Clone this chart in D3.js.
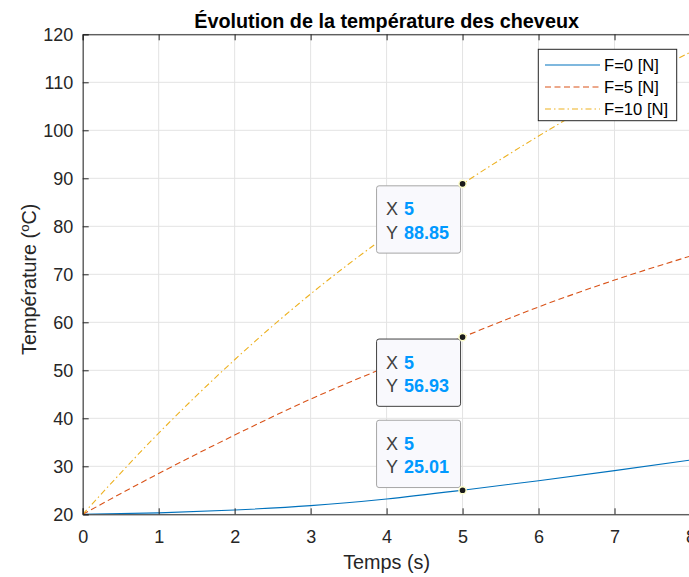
<!doctype html>
<html>
<head>
<meta charset="utf-8">
<script src="https://d3js.org/d3.v7.min.js"></script>
<style>
  body { margin: 0; background: #fff; }
  text { font-family: "Liberation Sans", Arial, Helvetica, sans-serif; }
</style>
</head>
<body>
<script>
// temps (s)
var temps = [0, 1, 2, 3, 4, 5, 6, 7, 8];
// température (°C) pour chaque force
var f0  = [20, 20.3, 20.9, 21.8, 23.2, 25.01, 27.0, 29.1, 31.3];
var f5  = [20, 28.5, 36.5, 44.0, 50.7, 56.93, 63.2, 68.8, 73.8];
var f10 = [20, 36.9, 52.2, 65.9, 78.0, 88.85, 98.8, 108.0, 116.3];

var noms = ["F=0 [N]", "F=5 [N]", "F=10 [N]"];
var couleurs = ["#0072BD", "#D95319", "#EDB120"];
var tirets = [null, "6,3.5", "6,3,1.5,3"];

var xTicks = [0, 1, 2, 3, 4, 5, 6, 7, 8];
var yTicks = [20, 30, 40, 50, 60, 70, 80, 90, 100, 110, 120];

// datatips
var tipX = [5, 5, 5];
var tipY = [25.01, 56.93, 88.85];
var tipHaut = [true, false, false];   // boite au-dessus du point ?
var tipActif = [false, true, false];

var width = 689, height = 577;
var mLeft = 82.7, mRight = 690.5, mTop = 34.3, mBottom = 514.3;

var x = d3.scaleLinear().domain([0, 8]).range([mLeft, mRight]);
var y = d3.scaleLinear().domain([20, 120]).range([mBottom, mTop]);

var svg = d3.select("body").append("svg")
    .attr("width", width)
    .attr("height", height);

svg.append("defs").append("clipPath").attr("id", "zone")
  .append("rect").attr("x", mLeft).attr("y", mTop)
  .attr("width", mRight - mLeft).attr("height", mBottom - mTop);

// grille
svg.append("g").selectAll("line").data(xTicks).enter().append("line")
  .attr("x1", d => x(d)).attr("x2", d => x(d))
  .attr("y1", mTop).attr("y2", mBottom)
  .attr("stroke", "#e3e3e3").attr("stroke-width", 1);
svg.append("g").selectAll("line").data(yTicks).enter().append("line")
  .attr("y1", d => y(d)).attr("y2", d => y(d))
  .attr("x1", mLeft).attr("x2", mRight)
  .attr("stroke", "#e3e3e3").attr("stroke-width", 1);

// courbes
var ligne = d3.line().curve(d3.curveMonotoneX);
var series = [f0, f5, f10];
var gc = svg.append("g").attr("clip-path", "url(#zone)");
series.forEach(function(s, i) {
  gc.append("path")
    .attr("d", ligne(temps.map((t, j) => [x(t), y(s[j])])))
    .attr("fill", "none")
    .attr("stroke", couleurs[i])
    .attr("stroke-width", 1.1)
    .attr("stroke-dasharray", tirets[i]);
});

// axes (style matlab, ticks vers l'intérieur)
var axeBas = svg.append("g").attr("transform", "translate(0," + mBottom + ")")
  .call(d3.axisBottom(x).tickValues(xTicks).tickSize(-6).tickPadding(15.6).tickFormat(d3.format("d")));
var axeHaut = svg.append("g").attr("transform", "translate(0," + mTop + ")")
  .call(d3.axisTop(x).tickValues(xTicks).tickSize(-6).tickFormat(""));
var axeGauche = svg.append("g").attr("transform", "translate(" + mLeft + ",0)")
  .call(d3.axisLeft(y).tickValues(yTicks).tickSize(-6).tickPadding(9.5).tickFormat(d3.format("d")));

[axeBas, axeHaut, axeGauche].forEach(function(a) {
  a.select(".domain").attr("stroke", "#262626").attr("stroke-width", 1);
  a.selectAll(".tick line").attr("stroke", "#262626");
  a.selectAll(".tick text").attr("fill", "#262626")
    .style("font-size", "18px");
});

// titre et libellés
svg.append("text").attr("x", (mLeft + mRight) / 2).attr("y", 28)
  .attr("text-anchor", "middle").style("font-size", "19.8px").style("font-weight", "bold")
  .attr("fill", "#000").text("Évolution de la température des cheveux");

svg.append("text").attr("x", (mLeft + mRight) / 2).attr("y", 569)
  .attr("text-anchor", "middle").style("font-size", "19.8px")
  .attr("fill", "#262626").text("Temps (s)");

var ylab = svg.append("text")
  .attr("transform", "translate(36," + ((mTop + mBottom) / 2 + 5) + ") rotate(-90)")
  .attr("text-anchor", "middle").style("font-size", "19.8px").attr("fill", "#262626");
ylab.append("tspan").text("Température (");
ylab.append("tspan").attr("dy", -7).style("font-size", "13px").text("o");
ylab.append("tspan").attr("dy", 7).text("C)");

// légende
var lg = svg.append("g");
lg.append("rect").attr("x", 538.3).attr("y", 49.3).attr("width", 138.4).attr("height", 71.4)
  .attr("fill", "#fff").attr("stroke", "#262626").attr("stroke-width", 1);
noms.forEach(function(n, i) {
  var yy = 65 + i * 22;
  lg.append("line").attr("x1", 545).attr("x2", 600).attr("y1", yy).attr("y2", yy)
    .attr("stroke", couleurs[i]).attr("stroke-width", 1.1).attr("stroke-dasharray", tirets[i]);
  lg.append("text").attr("x", 604).attr("y", yy + 6)
    .style("font-size", "16.6px").attr("fill", "#000").text(n);
});

// datatips
var bw = 84, bh = 67.3;
tipX.forEach(function(tx, i) {
  var px = x(tx), py = y(tipY[i]);
  var bx = px - 2 - bw;
  var by = tipHaut[i] ? py - 2.7 - bh : py + 2;
  var g = svg.append("g");
  g.append("rect").attr("x", bx).attr("y", by).attr("width", bw).attr("height", bh)
    .attr("rx", 2.5).attr("fill", "#f9f9fd")
    .attr("stroke", tipActif[i] ? "#404040" : "#a6a6a6").attr("stroke-width", 1);
  var l1 = g.append("text").attr("x", bx + 9.3).attr("y", by + 29.6).style("font-size", "18px");
  l1.append("tspan").attr("fill", "#404040").text("X ");
  l1.append("tspan").attr("x", bx + 27.3).attr("fill", "#0099ff").style("font-weight", "bold").text(tx);
  var l2 = g.append("text").attr("x", bx + 9.3).attr("y", by + 53).style("font-size", "18px");
  l2.append("tspan").attr("fill", "#404040").text("Y ");
  l2.append("tspan").attr("x", bx + 27.3).attr("fill", "#0099ff").style("font-weight", "bold")
    .text(tipY[i].toFixed(2));
  g.append("circle").attr("cx", px).attr("cy", py).attr("r", 3.6)
    .attr("fill", "#1a1a1a").attr("stroke", "#ffffcc").attr("stroke-width", 1.5);
});
</script>
</body>
</html>
